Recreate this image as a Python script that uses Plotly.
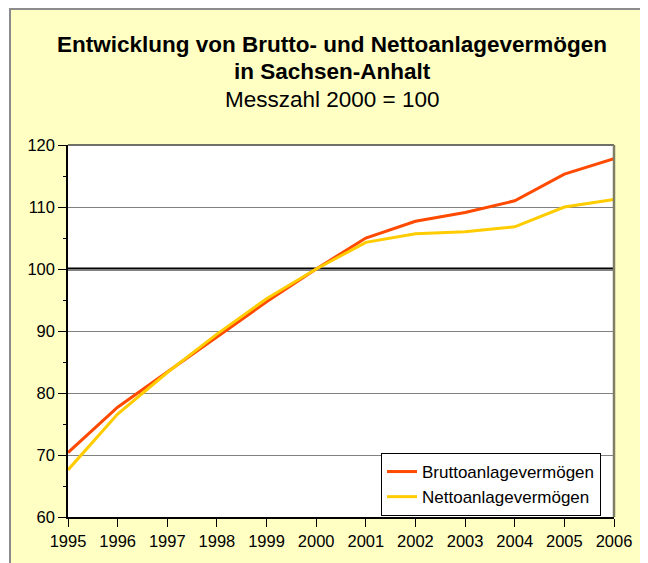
import plotly.graph_objects as go

years = [1995, 1996, 1997, 1998, 1999, 2000, 2001, 2002, 2003, 2004, 2005, 2006]
brutto = [70.4, 77.7, 83.4, 89.1, 94.7, 100.0, 105.0, 107.7, 109.1, 111.0, 115.3, 117.8]
netto = [67.6, 76.6, 83.3, 89.5, 95.2, 100.0, 104.3, 105.7, 106.0, 106.8, 110.0, 111.2]

W, H = 648, 563
OFF = 8  # page body margin in the browser window
# plot area in window pixels
X0, X1, Y0, Y1 = 68, 614, 145, 517
pw, ph = X1 - X0, Y1 - Y0


def px(x):
    return (x - X0) / pw


def py(y):
    return (Y1 - y) / ph


fig = go.Figure()
fig.add_trace(go.Scatter(x=years, y=brutto, mode="lines", name="Bruttoanlagevermögen",
                         line=dict(color="#FF4A00", width=3)))
fig.add_trace(go.Scatter(x=years, y=netto, mode="lines", name="Nettoanlagevermögen",
                         line=dict(color="#FFCC00", width=3)))

shapes = [
    # yellow frame
    dict(type="rect", xref="paper", yref="paper", x0=px(10), x1=px(700), y0=py(9), y1=py(620),
         fillcolor="#FFFFC4", line=dict(color="#8C8C8C", width=2), layer="below"),
    # white plot area
    dict(type="rect", xref="paper", yref="paper", x0=0, x1=1, y0=0, y1=1,
         fillcolor="white", line=dict(width=0), layer="below"),
    # plot top border
    dict(type="line", xref="paper", yref="paper", x0=0, x1=1, y0=1, y1=1,
         line=dict(color="#404040", width=1.5)),
    # right shadow border
    dict(type="line", xref="paper", yref="paper", x0=1, x1=1, y0=0, y1=1,
         line=dict(color="#7F7F66", width=2.5)),
    # reference line at 100
    dict(type="line", xref="paper", yref="y", x0=0, x1=1, y0=100, y1=100,
         line=dict(color="black", width=3), layer="between"),
]

fig.update_layout(
    width=W, height=H,
    margin=dict(l=X0 - OFF, r=W - (X1 - OFF), t=Y0 - OFF, b=H - (Y1 - OFF)),
    paper_bgcolor="white",
    plot_bgcolor="rgba(0,0,0,0)",
    font=dict(family="Liberation Sans, Arial, sans-serif", size=16, color="black"),
    shapes=shapes,
    showlegend=True,
    legend=dict(x=px(381), y=py(453), xanchor="left", yanchor="top",
                bgcolor="white", bordercolor="black", borderwidth=1,
                font=dict(size=17), tracegroupgap=0),
    annotations=[
        dict(xref="paper", yref="paper", x=px(332), y=py(44.5), xanchor="center", yanchor="middle",
             showarrow=False, text="<b>Entwicklung von Brutto- und Nettoanlagevermögen</b>",
             font=dict(size=22.5)),
        dict(xref="paper", yref="paper", x=px(332), y=py(72), xanchor="center", yanchor="middle",
             showarrow=False, text="<b>in Sachsen-Anhalt</b>", font=dict(size=22.5)),
        dict(xref="paper", yref="paper", x=px(332), y=py(99.5), xanchor="center", yanchor="middle",
             showarrow=False, text="Messzahl 2000 = 100", font=dict(size=22.5)),
    ],
    xaxis=dict(range=[1995, 2006], tickmode="array", tickvals=years, ticktext=[str(y) for y in years],
               showgrid=False, zeroline=False, showline=True, linecolor="black", linewidth=1.5,
               ticks="outside", ticklen=8, tickcolor="black", tickfont=dict(size=16.5)),
    yaxis=dict(range=[60, 120], dtick=10, showgrid=True, gridcolor="#808080", gridwidth=1,
               zeroline=False, showline=True, linecolor="black", linewidth=1.5,
               ticks="outside", ticklen=8, tickcolor="black", tickfont=dict(size=16.5),
               minor=dict(dtick=5, ticks="outside", ticklen=3, tickcolor="black", showgrid=False)),
)

fig.write_html("out.html")
